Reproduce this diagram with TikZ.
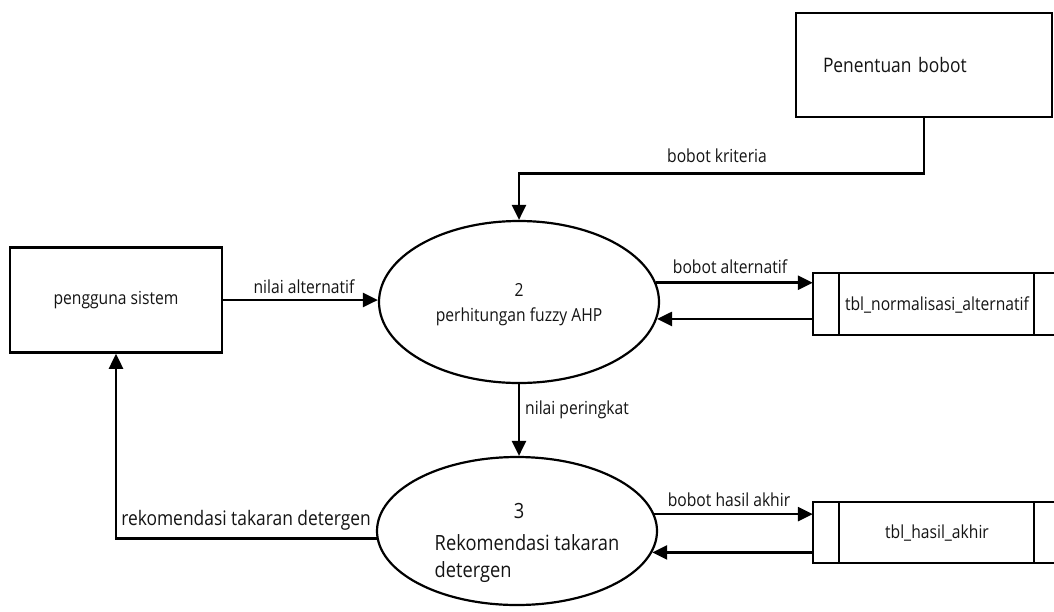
\documentclass[tikz,border=0pt]{standalone}
\usepackage{fontspec}
\setmainfont[FakeStretch=0.87]{Open Sans}
\usetikzlibrary{shapes.geometric,arrows.meta}
\newcommand{\fs}[1]{\fontsize{#1}{#1}\selectfont}
\tikzset{
  every picture/.style={x=1pt,y=-1pt},
  line/.style={line width=2.5pt,draw=black},
  flow/.style={line, -{Triangle[length=15pt,width=14pt]}},
  entity/.style={draw=black,line width=2.5pt,rectangle,inner sep=0pt,text=black!92},
  process/.style={draw=black,line width=2.2pt,ellipse,inner sep=0pt},
  store/.style={rectangle,inner sep=0pt,draw=none},
  lbl/.style={inner sep=0pt,font=\fs{18},text=black!92},
  txt/.style={inner sep=0pt,font=\fs{18},text=black!92},
}
\begin{document}
\begin{tikzpicture}
\clip (0,0) rectangle (1054,611);
\fill[white] (0,0) rectangle (1054,611);

% external entities
\node[entity,minimum width=256pt,minimum height=104pt,text width=202pt,align=left,
      inner xsep=27pt,font=\fs{20}] (pb) at (924,65) {\raisebox{-3pt}{Penentuan bobot}};
\node[entity,minimum width=212pt,minimum height=105pt,font=\fs{18}] (pg) at (116,300) {pengguna sistem};

% processes
\node[process,minimum width=280pt,minimum height=162pt] (p2) at (519,302) {};
\node[txt,align=center,font=\fontsize{18}{25}\selectfont] (p2t) at (519,305) {2\\perhitungan fuzzy AHP};
\node[process,minimum width=280pt,minimum height=148pt] (p3) at (517,531) {};
\node[txt,font=\fontsize{21}{27}\selectfont] (p3t) at (527,543)
  {\begin{tabular}{@{}l@{}}\multicolumn{1}{@{}c@{}}{\hspace{-16pt}3}\\[5pt]Rekomendasi takaran\\detergen\end{tabular}};

% data stores
\node[store,minimum width=247pt,minimum height=62pt] (ds1) at (936.5,304) {};
\node[txt] (ds1t) at (937,305) {tbl\_normalisasi\_alternatif};
\node[store,minimum width=247pt,minimum height=61pt] (ds2) at (936.5,532.5) {};
\node[txt] (ds2t) at (937,533) {tbl\_hasil\_akhir};
\foreach \s in {ds1,ds2}{
  \draw[line] (\s.north east) -- (\s.north west) -- (\s.south west) -- (\s.south east);
  \draw[line] ([xshift=26pt]\s.north west) -- ([xshift=26pt]\s.south west);
  \draw[line] ([xshift=-26pt]\s.north east) -- ([xshift=-26pt]\s.south east);
}

% data flows
\draw[flow] (pb.south) -- ++(0,55) coordinate (k) -| (p2.north);
\node[lbl] (lk) at (717,156) {bobot kriteria};

\draw[flow] (pg.east) -- (pg.east -| p2.west);
\node[lbl] (la) at (304,287) {nilai alternatif};

\draw[flow] (p2.8) -- (p2.8 -| ds1.west);
\node[lbl] (lba) at (730,267) {bobot alternatif};
\draw[flow] (ds1.west |- p2.-7) -- (p2.-7);

\draw[flow] (p2.south) -- (p2.south |- p3.north);
\node[lbl,anchor=west] (lp) at (525,410) {nilai peringkat};

\draw[flow] (p3.7.5) -- (p3.7.5 -| ds2.west);
\node[lbl] (lh) at (729,500) {bobot hasil akhir};
\draw[flow] (ds2.west |- p3.-9) -- (p3.-9);

\draw[flow] (p3.183) -| (pg.south);
\node[lbl,font=\fs{20}] (lr) at (246,520) {rekomendasi takaran detergen};
\end{tikzpicture}
\end{document}
